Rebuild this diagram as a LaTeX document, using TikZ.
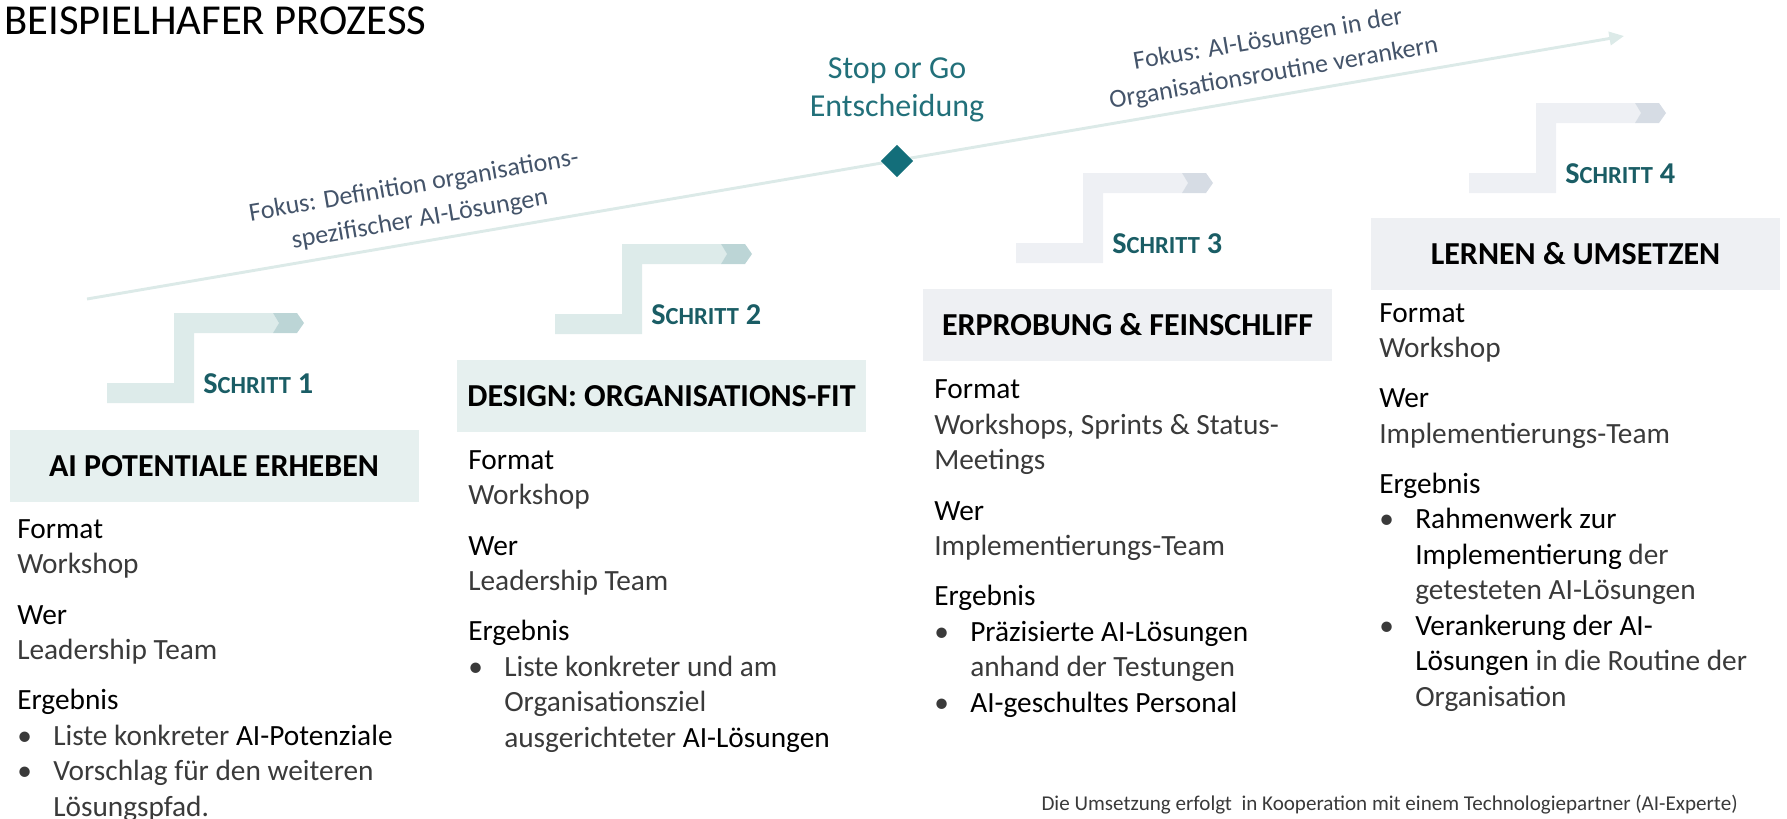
\documentclass[tikz,border=0pt]{standalone}
\usepackage{fontspec}
\setmainfont{Carlito}
\usetikzlibrary{arrows.meta}

\definecolor{petrol}{HTML}{136E7A}
\definecolor{petroltext}{HTML}{1A5D65}
\definecolor{stopgotext}{HTML}{22707A}
\definecolor{trendlinie}{HTML}{DCEAE8}
\definecolor{fokusgrau}{HTML}{44546A}
\definecolor{gruenhell}{HTML}{DDEBEA}
\definecolor{gruendunkel}{HTML}{BCD5D6}
\definecolor{grauhell}{HTML}{EEF0F4}
\definecolor{graudunkel}{HTML}{D6DCE4}
\definecolor{kopfgruen}{HTML}{E6F0EF}
\definecolor{kopfgrau}{HTML}{EEF0F3}
\definecolor{fliesstext}{HTML}{3A3A3A}

\newcommand{\feld}[1]{{\color{black}#1}}
\newcommand{\punkt}{\makebox[27pt][l]{\textbullet}}
\newcommand{\weiter}{\hspace*{27pt}}
\newcommand{\schritt}[1]{{\fontsize{22.7}{23}\selectfont S}{\fontsize{18.4}{19}\selectfont CHRITT}\fontsize{22.7}{23}\selectfont\ #1}

\begin{document}
\begin{tikzpicture}[x=0.75pt,y=-0.75pt,
  trend/.style={draw=trendlinie,line width=2.2pt,-{Triangle[length=11pt,width=10pt]}},
  kopf/.style={minimum width=306.75pt,minimum height=54pt,inner sep=0pt,font=\fontsize{24}{28}\selectfont\bfseries},
  spalte/.style={anchor=base west,align=left,inner sep=0pt,text=fliesstext,font=\fontsize{22}{26.6}\selectfont},
  fokus/.style={rotate=9.7,align=center,inner sep=0pt,text=fokusgrau,font=\fontsize{19.5}{25.5}\selectfont},
  stufenlabel/.style={anchor=base west,inner sep=0pt,text=petroltext,font=\bfseries}]
  \useasboundingbox (0,0) rectangle (1787,818);

  \node[anchor=base west,inner sep=0pt,font=\fontsize{32}{36}\selectfont] (titel) at (4,34) {BEISPIELHAFER PROZESS};

  % Zeitachse mit Entscheidungspunkt
  \coordinate (trendanfang) at (87,299);
  \coordinate (trendende) at (1624,36);
  \draw[trend] (trendanfang) -- (trendende);
  \node[fill=petrol,rotate=45,minimum size=17pt,inner sep=0pt] (stopgo) at (897,161) {};
  \node[align=center,text=stopgotext,font=\fontsize{24}{28.5}\selectfont] (entscheidung) at (897,90) {Stop or Go\\Entscheidung};
  \node[fokus] (fokus1) at (417,203) {Fokus: Definition organisations-\\spezifischer AI-Lösungen};
  \node[fokus] (fokus2) at (1271,57) {Fokus: AI-Lösungen in der\\Organisationsroutine verankern};

  % Treppenstufen
  \foreach \n/\vx/\ty/\hell/\dunkel in {1/174/313/gruenhell/gruendunkel, 2/622/244/gruenhell/gruendunkel, 3/1083/173/grauhell/graudunkel, 4/1536/103/grauhell/graudunkel}{
    \fill[\hell] (\vx-67,\ty+90) -- (\vx+20,\ty+90) -- (\vx+20,\ty+20) -- (\vx+99,\ty+20) -- (\vx+105,\ty+10)
      -- (\vx+99,\ty) -- (\vx,\ty) -- (\vx,\ty+70) -- (\vx-67,\ty+70) -- cycle;
    \fill[\dunkel] (\vx+99,\ty) -- (\vx+123,\ty) -- (\vx+130,\ty+10) -- (\vx+123,\ty+20) -- (\vx+99,\ty+20) -- (\vx+105,\ty+10) -- cycle;
    \node[stufenlabel] (schritt\n) at (\vx+29,\ty+80) {\schritt{\n}};
  }

  \node[kopf,fill=kopfgruen] (kopf1) at (214,466) {AI POTENTIALE ERHEBEN};
  \node[kopf,fill=kopfgruen] (kopf2) at (661.5,396) {DESIGN: ORGANISATIONS-FIT};
  \node[kopf,fill=kopfgrau] (kopf3) at (1127.5,325) {ERPROBUNG \& FEINSCHLIFF};
  \node[kopf,fill=kopfgrau] (kopf4) at (1575.5,253.5) {LERNEN \& UMSETZEN};

  % Spalten, verankert an der letzten Zeile
  \node[spalte] (inhalt1) at (17,816) {\feld{Format}\\ Workshop\\[11pt]
    \feld{Wer}\\ Leadership Team\\[11pt]
    \feld{Ergebnis}\\ \punkt Liste konkreter \feld{AI-Potenziale}\\ \punkt Vorschlag für den weiteren\\ \weiter Lösungspfad.};
  \node[spalte] (inhalt2) at (468,747) {\feld{Format}\\ Workshop\\[11pt]
    \feld{Wer}\\ Leadership Team\\[11pt]
    \feld{Ergebnis}\\ \punkt Liste konkreter und am\\ \weiter Organisationsziel\\ \weiter ausgerichteter \feld{AI-Lösungen}};
  \node[spalte] (inhalt3) at (934,712) {\feld{Format}\\ Workshops, Sprints \& Status-\\ Meetings\\[11pt]
    \feld{Wer}\\ Implementierungs-Team\\[11pt]
    \feld{Ergebnis}\\ \punkt\feld{Präzisierte AI-Lösungen}\\ \weiter anhand der Testungen\\ \punkt\feld{AI-geschultes Personal}};
  \node[spalte] (inhalt4) at (1379,706) {\feld{Format}\\ Workshop\\[11pt]
    \feld{Wer}\\ Implementierungs-Team\\[11pt]
    \feld{Ergebnis}\\ \punkt\feld{Rahmenwerk zur}\\ \weiter\feld{Implementierung} der\\ \weiter getesteten AI-Lösungen\\
    \punkt\feld{Verankerung der AI-}\\ \weiter\feld{Lösungen} in die Routine der\\ \weiter Organisation};

  \node[anchor=base east,inner sep=0pt,text=fliesstext,font=\fontsize{15.8}{18}\selectfont] (hinweis) at (1738,810) {Die Umsetzung erfolgt~ in Kooperation mit einem Technologiepartner (AI-Experte)};
\end{tikzpicture}
\end{document}
